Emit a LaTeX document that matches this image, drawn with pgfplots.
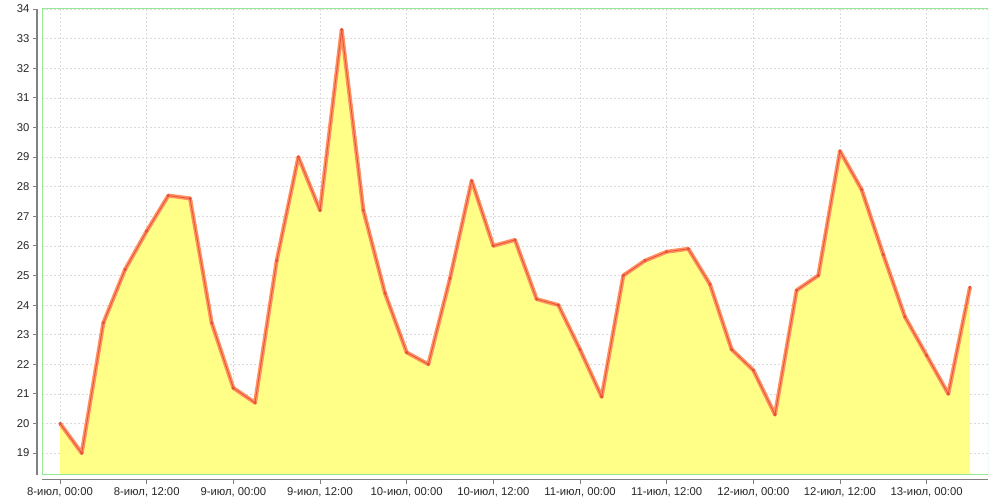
\documentclass[border=0pt]{standalone}
\usepackage{pgfplots}
\pgfplotsset{compat=1.18}
\usepackage{fontspec}
\setmainfont{Liberation Sans}
\definecolor{fillyellow}{RGB}{255,255,125}
\definecolor{lineorange}{RGB}{255,145,95}
\definecolor{linered}{RGB}{232,80,60}
\definecolor{framegreen}{RGB}{150,232,150}
\definecolor{gridgray}{RGB}{218,218,218}
\definecolor{axisgray}{RGB}{128,128,128}
\pgfplotstableread{
h v
0 20.0
3 19.0
6 23.4
9 25.2
12 26.5
15 27.7
18 27.6
21 23.4
24 21.2
27 20.7
30 25.5
33 29.0
36 27.2
39 33.3
42 27.2
45 24.4
48 22.4
51 22.0
54 24.9
57 28.2
60 26.0
63 26.2
66 24.2
69 24.0
72 22.5
75 20.9
78 25.0
81 25.5
84 25.8
87 25.9
90 24.7
93 22.5
96 21.8
99 20.3
102 24.5
105 25.0
108 29.2
111 27.9
114 25.7
117 23.6
120 22.3
123 21.0
126 24.6
}\temps
\begin{document}
\begin{tikzpicture}
\useasboundingbox (0,0) rectangle (1000pt,500pt);
\begin{axis}[
  at={(42pt,25pt)}, anchor=south west,
  scale only axis, width=946pt, height=466pt,
  xmin=-2.5, xmax=128.5, ymin=18.26, ymax=34,
  axis x line=bottom, axis y line=left,
  axis line style={-, axisgray, line width=1pt},
  x axis line style={yshift=-5pt},
  y axis line style={xshift=-5pt},
  xtick={0,12,...,120},
  xticklabels={{8-июл, 00:00},{8-июл, 12:00},{9-июл, 00:00},{9-июл, 12:00},{10-июл, 00:00},{10-июл, 12:00},{11-июл, 00:00},{11-июл, 12:00},{12-июл, 00:00},{12-июл, 12:00},{13-июл, 00:00}},
  ytick={19,20,...,34},
  tick align=outside, major tick length=4pt,
  xtick style={axisgray, line width=0.8pt, yshift=-5pt},
  ytick style={axisgray, line width=0.8pt, xshift=-5pt},
  /pgf/number format/assume math mode=true,
  tick label style={font=\fontsize{11.3}{13}\selectfont, text=black!85},
  xticklabel style={yshift=-5pt},
  yticklabel style={xshift=-5pt},
  grid=major,
  major grid style={gridgray, line width=0.5pt, dash pattern=on 2pt off 2pt},
  clip=true,
]
\addplot[draw=none, fill=fillyellow, fill opacity=0.92] table[x=h, y=v] {\temps} \closedcycle;
\addplot[lineorange, line width=4pt, line join=round] table[x=h, y=v] {\temps};
\addplot[linered, line width=0.8pt, line join=round, mark=*, mark size=1.2pt, mark options={fill=linered, draw=none}] table[x=h, y=v] {\temps};
\draw[framegreen, line width=1pt] (rel axis cs:0,0) rectangle (rel axis cs:1,1);
\end{axis}
\end{tikzpicture}
\end{document}
